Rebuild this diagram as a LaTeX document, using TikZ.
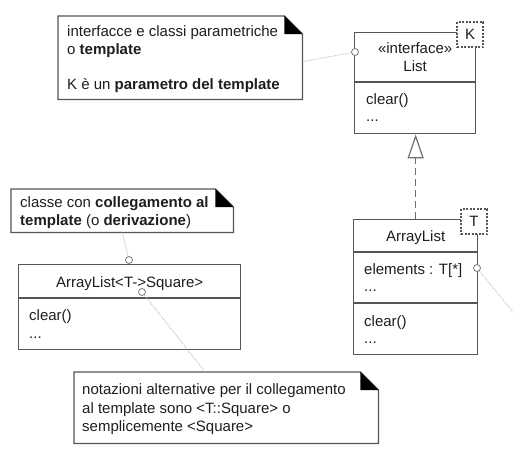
\documentclass[tikz,border=0pt]{standalone}
\usepackage{fontspec}
\setmainfont{Liberation Sans}
\usetikzlibrary{arrows.meta,calc}
\definecolor{linec}{RGB}{85,85,85}
\definecolor{dashc}{RGB}{110,110,110}
\definecolor{txtc}{RGB}{30,30,30}
\definecolor{attc}{RGB}{185,185,185}
\definecolor{circc}{RGB}{120,120,120}
\begin{document}
\begin{tikzpicture}[x=1pt,y=-1pt,
  every node/.style={font=\fontsize{15}{18}\selectfont, text=txtc},
  txt/.style={inner sep=0pt, anchor=base west},
  ctxt/.style={inner sep=0pt, anchor=base},
  classbox/.style={draw=linec, line width=1.3pt, fill=white, inner sep=0pt, anchor=north west},
  notebox/.style={draw=none, inner sep=0pt, anchor=north west},
  noteline/.style={draw=linec, line width=1.3pt, line join=miter},
  parbox/.style={draw=linec, dash pattern=on 2pt off 1.5pt, line width=1.2pt, fill=white, inner sep=0pt, minimum width=26pt, minimum height=25pt},
  sepline/.style={draw=linec, line width=1.3pt},
  attach/.style={draw=attc, line width=0.7pt, dash pattern=on 1.2pt off 1pt},
  anchorc/.style={circle, draw=circc, line width=0.8pt, fill=white, inner sep=0pt, minimum size=7pt},
  realize/.style={draw=dashc, line width=1.5pt, dash pattern=on 7pt off 4pt, -{Triangle[open, length=24pt, width=16pt, line width=1.2pt]}},
]
\useasboundingbox (0,0) rectangle (514,453);

% notes
\node[notebox, minimum width=244pt, minimum height=83pt] (n1) at (58,16) {};
\node[notebox, minimum width=222pt, minimum height=43pt] (n2) at (11,189) {};
\node[notebox, minimum width=304pt, minimum height=71pt] (n3) at (74,372) {};
\foreach \n in {n1,n2,n3}{
  \draw[noteline] (\n.north west) -- ([xshift=-18pt]\n.north east) -- ([yshift=-18pt]\n.north east) -- (\n.south east) -- (\n.south west) -- cycle;
  \fill[black] ([xshift=-18pt]\n.north east) -- ([xshift=-18pt,yshift=-18pt]\n.north east) -- ([yshift=-18pt]\n.north east) -- cycle;
}

% classes
\node[classbox, minimum width=121pt, minimum height=101pt] (list) at (354,32) {};
\draw[sepline] (list.west |- 0,82) -- (list.east |- 0,82);
\node[classbox, minimum width=124pt, minimum height=135pt] (al) at (353,219) {};
\draw[sepline] (al.west |- 0,252) -- (al.east |- 0,252);
\draw[sepline] (al.west |- 0,303) -- (al.east |- 0,303);
\node[classbox, minimum width=222pt, minimum height=85pt] (als) at (18,264) {};
\draw[sepline] (als.west |- 0,298) -- (als.east |- 0,298);

% template parameter boxes
\node[parbox] (kpar) at (470,34.5) {K};
\node[parbox] (tpar) at (474,221.5) {T};

% realization
\draw[realize] (al.north) -- (al.north |- list.south);

% note texts
\node[txt] (t11) at (67,36) {interfacce e classi parametriche};
\node[txt] (t12) at (67,54) {o \textbf{template}};
\node[txt] (t13) at (67,89) {K è un \textbf{parametro del template}};
\node[txt] (t21) at (20,207) {classe con \textbf{collegamento al}};
\node[txt] (t22) at (20,225) {\textbf{template} (o \textbf{derivazione})};
\node[txt] (t31) at (82,394) {notazioni alternative per il collegamento};
\node[txt] (t32) at (82,413) {al template sono <T::Square> o};
\node[txt] (t33) at (82,431) {semplicemente <Square>};

% class texts
\node[ctxt] (l1) at (list.center |- 0,53) {«interface»};
\node[ctxt] (l2) at (list.center |- 0,71) {List};
\node[txt] (l3) at (366,104) {clear()};
\node[txt] (l4) at (366,121) {...};
\node[ctxt] (a1) at (al.center |- 0,241) {ArrayList};
\node[txt] (a2) at (364,274) {elements : T[*]};
\node[txt] (a3) at (364,291) {...};
\node[txt] (a4) at (364,326) {clear()};
\node[txt] (a5) at (364,343) {...};
\node[ctxt] (s1) at (als.center |- 0,287) {ArrayList<T->Square>};
\node[txt] (s2) at (29,320) {clear()};
\node[txt] (s3) at (29,338) {...};

% note attachments
\node[anchorc] (c1) at (355,52) {};
\node[anchorc] (c2) at (129,260) {};
\node[anchorc, fill=none] (c3) at (142,292) {};
\node[anchorc] (c4) at (477,268) {};
\coordinate (e4) at (513,312);
\draw[attach] ([yshift=-4pt]n1.east) -- (c1);
\draw[attach] (n2.south) -- (c2);
\draw[attach] (c3) -- ([xshift=-21pt]n3.north);
\draw[attach] (c4) -- (e4);
\end{tikzpicture}
\end{document}
